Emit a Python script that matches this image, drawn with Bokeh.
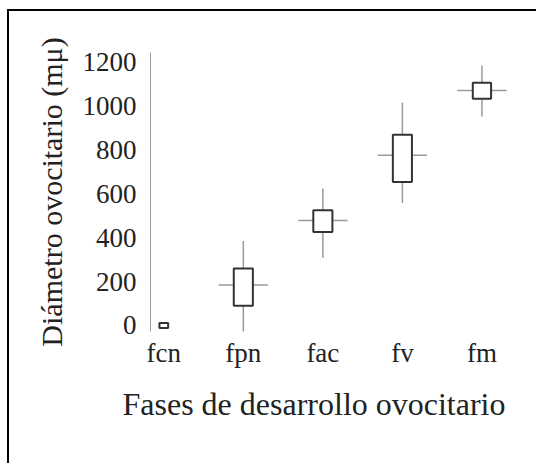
from bokeh.plotting import figure
from bokeh.models import FixedTicker, Range1d, Title
from bokeh.embed import file_html
from bokeh.resources import INLINE

# ---- data ----
categories = ["fcn", "fpn", "fac", "fv", "fm"]
whisker_min = [-10, -30, 309, 558, 953]
box_low = [-12, 90, 426, 654, 1034]
mean_val = [0, 184, 479, 776, 1072]
box_high = [11, 259, 525, 870, 1107]
whisker_max = [11, 385, 624, 1016, 1186]
y_ticks = [0, 200, 400, 600, 800, 1000, 1200]

xs = list(range(len(categories)))
box_w = [0.11, 0.24, 0.24, 0.24, 0.23]
show_mean = [False, True, True, True, True]
half = 0.31

FONT = "Liberation Serif"

p = figure(width=527, height=452, output_backend="svg", toolbar_location=None,
           x_range=Range1d(-0.167, 4.51), y_range=Range1d(-28, 1245),
           min_border_left=141, min_border_top=41, min_border_right=14,
           min_border_bottom=132)
p.outline_line_color = None
p.grid.visible = False
p.background_fill_color = "white"
p.border_fill_color = "white"

# whiskers
p.segment(x0=xs, y0=whisker_min, x1=xs, y1=whisker_max, line_color="#9a9a9a", line_width=1.5)
# mean lines
mx = [x for x, s in zip(xs, show_mean) if s]
my = [m for m, s in zip(mean_val, show_mean) if s]
p.segment(x0=[x - half for x in mx], y0=my, x1=[x + half for x in mx], y1=my,
          line_color="#9a9a9a", line_width=1.5)
# boxes
p.vbar(x=xs, width=box_w, bottom=box_low, top=box_high, fill_color="white",
       line_color="#333333", line_width=2)

# axes
yax = p.yaxis[0]
yax.ticker = FixedTicker(ticks=y_ticks)
yax.major_tick_line_color = None
yax.minor_tick_line_color = None
yax.axis_line_color = "#9a9a9a"
yax.axis_line_width = 1
yax.major_label_text_font = FONT
yax.major_label_text_font_size = "27px"
yax.major_label_text_color = "#222222"
yax.major_label_standoff = 8
yax.axis_label = "Diámetro ovocitario (mμ)"
yax.axis_label_text_font = FONT
yax.axis_label_text_font_size = "30px"
yax.axis_label_text_font_style = "normal"
yax.axis_label_text_color = "#222222"
yax.axis_label_standoff = 12

xax = p.xaxis[0]
xax.ticker = FixedTicker(ticks=xs)
xax.major_label_overrides = {i: c for i, c in zip(xs, categories)}
xax.major_tick_line_color = None
xax.minor_tick_line_color = None
xax.axis_line_color = None
xax.major_label_text_font = FONT
xax.major_label_text_font_size = "27px"
xax.major_label_text_color = "#222222"
xax.major_label_standoff = 0

t = Title(text="Fases de desarrollo ovocitario", align="left", offset=-28,
          text_font=FONT, text_font_size="32px", text_font_style="normal",
          text_color="#222222", standoff=26)
p.add_layout(t, "below")

html = file_html(p, INLINE)
css = ("<style>html,body{height:auto !important;}"
       "body{margin:9px 0 0 7px !important;border-left:2px solid #000;border-top:2px solid #000;}"
       "</style></head>")
html = html.replace("</head>", css, 1)
open("out.html", "w").write(html)
